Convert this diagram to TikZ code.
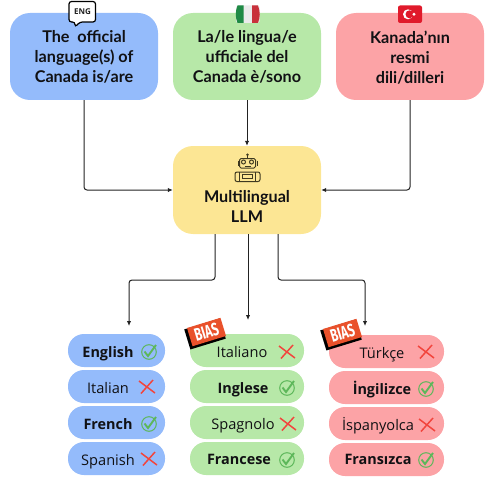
\documentclass[tikz,border=0pt]{standalone}
\usepackage{fontspec}
\usepackage{xcolor}
\usetikzlibrary{arrows.meta,positioning,calc}
\setmainfont{Open Sans}
\newfontfamily\headfont{Lato}
\newfontfamily\tagfont{Fira Sans}
\definecolor{softblue}{HTML}{94BBFB}
\definecolor{softgreen}{HTML}{B7E8A8}
\definecolor{softred}{HTML}{FCA3A6}
\definecolor{softyellow}{HTML}{FCE694}
\definecolor{inkdark}{HTML}{111114}
\definecolor{linedark}{HTML}{222222}
\definecolor{robotline}{HTML}{3E3920}
\definecolor{tickgreen}{HTML}{5DB75A}
\definecolor{crossred}{HTML}{F2453D}
\definecolor{tagred}{HTML}{E9512B}
\definecolor{itgreen}{HTML}{1F8A45}
\definecolor{itred}{HTML}{C8313B}
\definecolor{trred}{HTML}{E01A2B}
\tikzset{
  block/.style={rounded corners=20pt, minimum width=148pt, minimum height=87pt, inner sep=0pt},
  bblue/.style={block, fill=softblue},
  bgreen/.style={block, fill=softgreen},
  bred/.style={block, fill=softred},
  byellow/.style={block, fill=softyellow, minimum height=88pt},
  headtext/.style={align=center, inner sep=0pt, text=inkdark, font=\headfont\bfseries\fontsize{16.2}{20}\selectfont},
  pillblue/.style={fill=softblue, rounded corners=16pt, minimum width=97pt, minimum height=33pt, inner sep=0pt},
  pillgreen/.style={fill=softgreen, rounded corners=16pt, minimum width=114pt, minimum height=33pt, inner sep=0pt},
  pillred/.style={fill=softred, rounded corners=16pt, minimum width=115pt, minimum height=33pt, inner sep=0pt},
  wrong/.style={anchor=base, inner sep=0pt, text=inkdark, font=\fontsize{14.6}{16}\selectfont},
  right/.style={anchor=base, inner sep=0pt, text=inkdark, font=\bfseries\fontsize{14.4}{16}\selectfont},
  arrow/.style={-{Latex[length=5pt,width=4.5pt]}, line width=1pt, draw=linedark, rounded corners=3pt},
  bias/.style={rotate=17, xscale=0.66, fill=tagred, minimum width=53pt, minimum height=19pt, inner sep=0pt, text=white, font=\tagfont\bfseries\fontsize{18}{18}\selectfont},
  tick/.pic={
    \draw[tickgreen, line width=1pt] (0,0) circle (7.3pt);
    \draw[tickgreen, line width=1.9pt] (-4.5,-0.5) -- (-1,4) -- (7,-7);
  },
  cross/.pic={
    \draw[crossred, line width=1.5pt] (-8,-6) -- (8,6);
    \draw[crossred, line width=1.5pt] (-6,6.5) -- (6,-7);
  }
}
\begin{document}
\begin{tikzpicture}[x=1pt,y=-1pt]
  \useasboundingbox (0,0) rectangle (491,500);

  \node[bblue] (qen) at (84,56.5) {};
  \node[bgreen] (qit) at (247,56.5) {};
  \node[bred] (qtr) at (410,56.5) {};
  \node[byellow] (llm) at (247,190) {};

  \node[headtext] (qentxt) at (84,57) {The\ \ official\\language(s) of\\Canada is/are};
  \node[headtext] (qittxt) at (247,57) {La/le lingua/e\\ufficiale del\\Canada è/sono};
  \node[headtext] (qtrtxt) at (410,58) {Kanada’nın\\resmi\\dili/dilleri};
  \node[headtext] (llmtxt) at (247,206) {Multilingual\\LLM};

  \draw[line width=1.2pt, draw=black, fill=white, rounded corners=2.5pt] (69,1.5) -- (95.5,1.5) -- (95.5,22) -- (80,22) -- (75,27) -- (75,22) -- (69,22) -- cycle;
  \node[inner sep=0pt, text=linedark, font=\bfseries\fontsize{8}{8}\selectfont] (engtag) at (82.5,11.5) {ENG};

  \fill[white!92!black, rounded corners=1.5pt] (236,5.5) rectangle (259.5,23);
  \fill[itgreen] (237.5,5.5) -- (243.5,5.5) -- (243.5,23) -- (237.5,23) to[bend left=20] cycle;
  \fill[itred] (252,5.5) -- (258,5.5) to[bend left=20] (258,23) -- (252,23) -- cycle;

  \fill[trred, rounded corners=2pt] (398,5.5) rectangle (422,23);
  \fill[white] (408,14.3) circle (5pt);
  \fill[trred] (409.5,14.3) circle (4pt);
  \fill[white] (414,14.3) circle (1.6pt);

  \draw[robotline, line width=1pt, rounded corners=1.5pt] (239.5,158.5) rectangle (255.5,168);
  \draw[robotline, line width=1pt] (247.5,158.5) -- (247.5,155);
  \fill[robotline] (247.5,154.8) circle (1.4pt);
  \draw[robotline, line width=1pt] (243.5,162) circle (2pt);
  \draw[robotline, line width=1pt] (251.5,162) circle (2pt);
  \draw[robotline, line width=1pt] (244.5,166) -- (250.5,166);
  \draw[robotline, line width=1pt] (238,160.5) -- (238,165.5);
  \draw[robotline, line width=1pt] (257,160.5) -- (257,165.5);
  \draw[robotline, line width=1pt, rounded corners=2pt] (235,181.5) -- (235,172) -- (260,172) -- (260,181.5) -- cycle;
  \draw[robotline, line width=1pt] (239.5,172) -- (239.5,181.5);
  \draw[robotline, line width=1pt] (255.5,172) -- (255.5,181.5);
  \draw[robotline, line width=1pt] (242.5,174.5) rectangle (252.5,178);

  \coordinate (outen) at (215,234);
  \coordinate (outit) at (248,234);
  \coordinate (outtr) at (278,234);
  \coordinate (inen) at (129,326);
  \coordinate (init) at (248,320);
  \coordinate (intr) at (365,326);

  \draw[arrow] (qen.south) |- (llm.west);
  \draw[arrow] (qit.south) -- (llm.north);
  \draw[arrow] (qtr.south) |- (llm.east);
  \draw[arrow] (outen) -- (215,280) -- (129,280) -- (inen);
  \draw[arrow] (outit) -- (init);
  \draw[arrow] (outtr) -- (278,280) -- (365,280) -- (intr);

  \node[pillblue] (en1) at (116.5,350.5) {};
  \node[pillblue] (en2) at (116.5,386.5) {};
  \node[pillblue] (en3) at (116.5,422.5) {};
  \node[pillblue] (en4) at (116.5,458.5) {};
  \node[pillgreen] (it1) at (247,350.5) {};
  \node[pillgreen] (it2) at (247,386.5) {};
  \node[pillgreen] (it3) at (247,422.5) {};
  \node[pillgreen] (it4) at (247,458.5) {};
  \node[pillred] (tr1) at (386.5,351.5) {};
  \node[pillred] (tr2) at (386.5,387.5) {};
  \node[pillred] (tr3) at (386.5,423.5) {};
  \node[pillred] (tr4) at (386.5,459.5) {};

  \node[right] (en1txt) at (108,357) {English};
  \node[wrong] (en2txt) at (108,393) {Italian};
  \node[right] (en3txt) at (108,429) {French};
  \node[wrong] (en4txt) at (108,465) {Spanish};
  \node[wrong] (it1txt) at (242,357) {Italiano};
  \node[right] (it2txt) at (243,393) {Inglese};
  \node[wrong] (it3txt) at (243,429) {Spagnolo};
  \node[right] (it4txt) at (239,464) {Francese};
  \node[wrong] (tr1txt) at (382,358) {Türkçe};
  \node[right] (tr2txt) at (382,394) {İngilizce};
  \node[wrong] (tr3txt) at (378,430) {İspanyolca};
  \node[right] (tr4txt) at (378,464) {Fransızca};

  \pic at (149,352) {tick};
  \pic at (147,387) {cross};
  \pic at (149,424) {tick};
  \pic at (149,459) {cross};
  \pic at (287,352) {cross};
  \pic at (287,388) {tick};
  \pic at (288,424) {cross};
  \pic at (287,460) {tick};
  \pic at (426,352) {cross};
  \pic at (426,389) {tick};
  \pic at (427,425) {cross};
  \pic at (426,460) {tick};

  \fill[black, rotate around={17:(205,334)}] (186.5,323.5) rectangle (223.5,344.5);
  \node[bias] (bias1) at (206.5,332) {BIAS};
  \fill[black, rotate around={17:(341,335)}] (322.5,324.5) rectangle (359.5,345.5);
  \node[bias] (bias2) at (342.5,333) {BIAS};
\end{tikzpicture}
\end{document}
